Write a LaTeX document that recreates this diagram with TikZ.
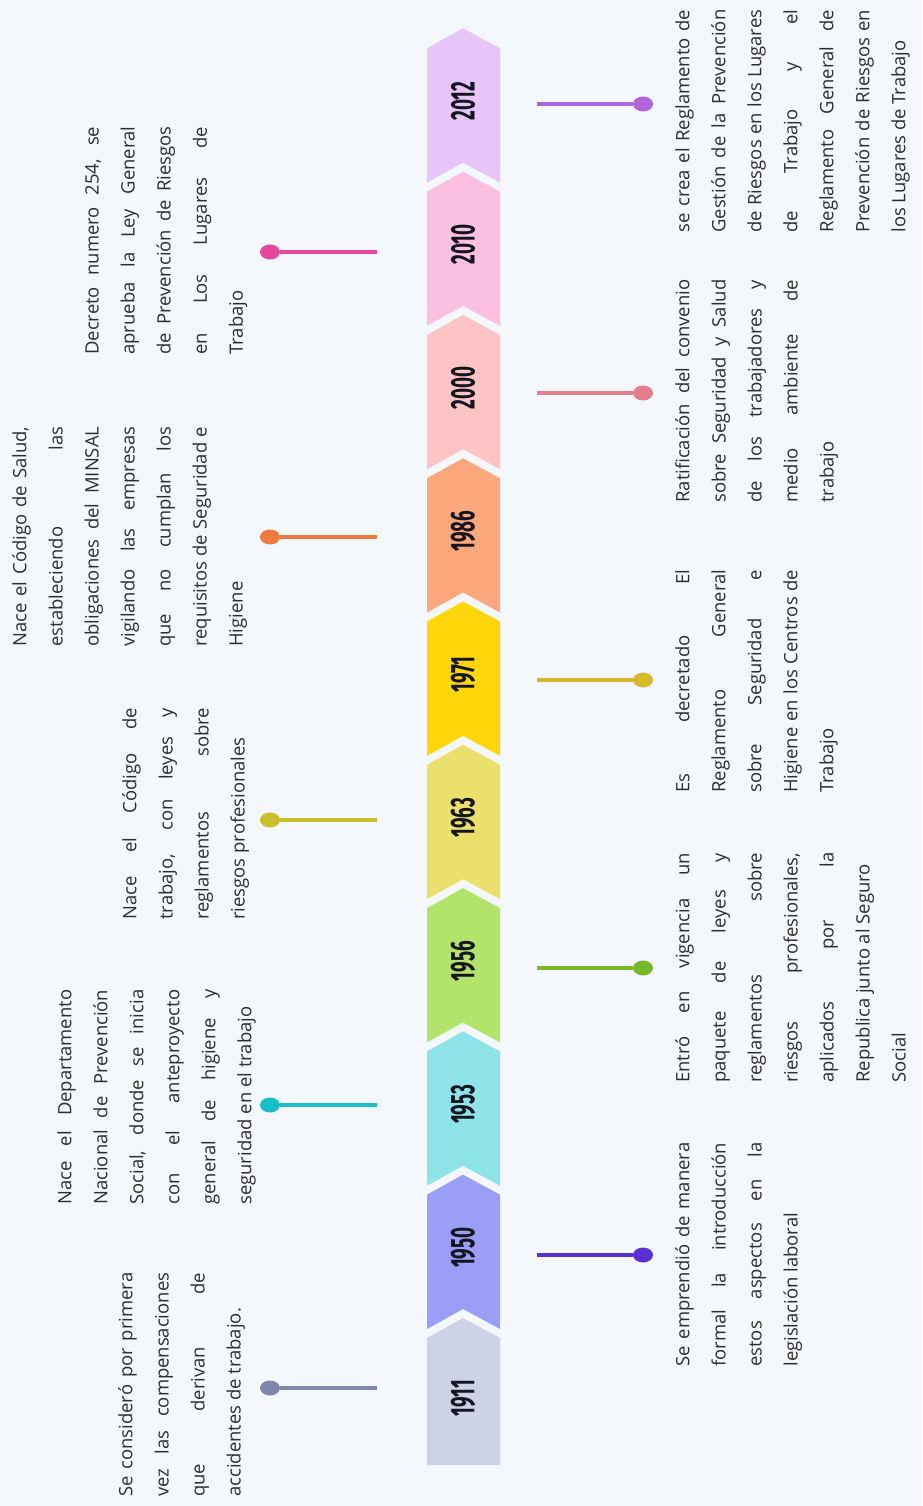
\documentclass[tikz,border=0pt]{standalone}
\usepackage{fontspec}
\setmainfont{Open Sans}
\newfontfamily\yearfont[FakeStretch=0.55]{Fira Sans}
\usepackage{tikz}
\usetikzlibrary{shapes.geometric}
\hyphenpenalty=10000

\definecolor{bgcol}{HTML}{F4F7FC}
\definecolor{txtcol}{HTML}{2E2E2E}
\definecolor{yrcol}{HTML}{15151F}
% bands
\definecolor{c1911}{HTML}{CDD3E6}
\definecolor{c1950}{HTML}{9B9EF7}
\definecolor{c1953}{HTML}{8DE3E8}
\definecolor{c1956}{HTML}{B2E36B}
\definecolor{c1963}{HTML}{EBE06B}
\definecolor{c1971}{HTML}{FFD60A}
\definecolor{c1986}{HTML}{FDA87C}
\definecolor{c2000}{HTML}{FDC4C6}
\definecolor{c2010}{HTML}{FBC0E2}
\definecolor{c2012}{HTML}{E8C5F8}
% pins
\definecolor{k1911}{HTML}{7D88A8}
\definecolor{k1950}{HTML}{5A2FD3}
\definecolor{k1953}{HTML}{19BFC8}
\definecolor{k1956}{HTML}{79B72B}
\definecolor{k1963}{HTML}{CABE2C}
\definecolor{k1971}{HTML}{D9B92C}
\definecolor{k1986}{HTML}{EE7A3F}
\definecolor{k2000}{HTML}{E57D8B}
\definecolor{k2010}{HTML}{E6489B}
\definecolor{k2012}{HTML}{B165DA}

\begin{document}
\begin{tikzpicture}[x=0.02cm, y=-0.02cm,
	yr/.style={rotate=90, inner sep=0pt, text=yrcol, font=\yearfont\bfseries\fontsize{19.5}{19.5}\selectfont},
	pin/.style={ellipse, inner sep=0pt, minimum width=0.4cm, minimum height=0.3cm},
	lnk/.style={line width=2pt},
	txt/.style={rotate=90, anchor=north west, inner sep=0pt, align=justify, text width=4.46cm, text=txtcol, font=\fontsize{10.5}{20.5}\selectfont}]
	\fill[bgcol] (0,0) rectangle (922,1506);
	\useasboundingbox (0,0) rectangle (922,1506);

	% timeline
	\fill[c1911] (427,1465) -- (500,1465) -- (500,1338) -- (463,1318) -- (427,1338) -- cycle;
	\node[yr] (y1911) at (463,1398) {1911};
	\foreach \i/\yr in {1/1950,2/1953,3/1956,4/1963,5/1971,6/1986,7/2000,8/2010,9/2012}{
		\pgfmathsetmacro\tp{1318-143.3*\i}
		\pgfmathsetmacro\bt{\tp+143.3}
		\fill[c\yr] (427,{\bt+11}) -- (463,{\bt-9}) -- (500,{\bt+11}) -- (500,{\tp+20}) -- (463,\tp) -- (427,{\tp+20}) -- cycle;
		\node[yr] (y\yr) at (463,{\tp+73}) {\yr};
	}

	% pins above
	\node[pin, fill=k1911] (d1911) at (270,1388) {};
	\node[pin, fill=k1953] (d1953) at (270,1105) {};
	\node[pin, fill=k1963] (d1963) at (270,820) {};
	\node[pin, fill=k1986] (d1986) at (270,537) {};
	\node[pin, fill=k2010] (d2010) at (270,252) {};
	\coordinate (e1911) at (377,1388);
	\coordinate (e1953) at (377,1105);
	\coordinate (e1963) at (377,820);
	\coordinate (e1986) at (377,537);
	\coordinate (e2010) at (377,252);
	% pins below
	\node[pin, fill=k1950] (d1950) at (643,1255) {};
	\node[pin, fill=k1956] (d1956) at (643,968) {};
	\node[pin, fill=k1971] (d1971) at (643,680) {};
	\node[pin, fill=k2000] (d2000) at (643,393) {};
	\node[pin, fill=k2012] (d2012) at (643,104) {};
	\coordinate (e1950) at (537,1255);
	\coordinate (e1956) at (537,968);
	\coordinate (e1971) at (537,680);
	\coordinate (e2000) at (537,393);
	\coordinate (e2012) at (537,104);
	\foreach \yr in {1911,1950,1953,1956,1963,1971,1986,2000,2010,2012}
		\draw[lnk, k\yr] (d\yr) -- (e\yr);

	% texts
	\node[txt, text width=4.48cm] (t1911) at (118,1497) {Se consideró por primera\linebreak vez las compensaciones\linebreak que derivan de\linebreak accidentes de trabajo.};
	\node[txt, text width=4.3cm] (t1953) at (57,1205) {Nace el Departamento\linebreak Nacional de Prevención\linebreak Social, donde se inicia\linebreak con el anteproyecto\linebreak general de higiene y\linebreak seguridad en el trabajo};
	\node[txt, text width=4.24cm] (t1963) at (122,920) {Nace el Código de\linebreak trabajo, con leyes y\linebreak reglamentos sobre\linebreak riesgos profesionales};
	\node[txt, text width=4.4cm] (t1986) at (12,647) {Nace el Código de Salud,\linebreak estableciendo las\linebreak obligaciones del MINSAL\linebreak vigilando las empresas\linebreak que no cumplan los\linebreak requisitos de Seguridad e\linebreak Higiene};
	\node[txt, text width=4.56cm] (t2010) at (85,355) {Decreto numero 254, se\linebreak aprueba la Ley General\linebreak de Prevención de Riesgos\linebreak en Los Lugares de\linebreak Trabajo};
	\node[txt, text width=4.48cm] (t1950) at (675,1367) {Se emprendió de manera\linebreak formal la introducción\linebreak estos aspectos en la\linebreak legislación laboral};
	\node[txt, text width=4.6cm] (t1956) at (675,1083) {Entró en vigencia un\linebreak paquete de leyes y\linebreak reglamentos sobre\linebreak riesgos profesionales,\linebreak aplicados por la\linebreak Republica junto al Seguro\\ Social};
	\node[txt] (t1971) at (675,793) {Es decretado El\linebreak Reglamento General\linebreak sobre Seguridad e\linebreak Higiene en los Centros de\linebreak Trabajo};
	\node[txt] (t2000) at (675,503) {Ratificación del convenio\linebreak sobre Seguridad y Salud\linebreak de los trabajadores y\linebreak medio ambiente de\linebreak trabajo};
	\node[txt] (t2012) at (675,233) {se crea el Reglamento de\linebreak Gestión de la Prevención\linebreak de Riesgos en los Lugares\linebreak de Trabajo y el\linebreak Reglamento General de\linebreak Prevención de Riesgos en\linebreak los Lugares de Trabajo};
\end{tikzpicture}
\end{document}
